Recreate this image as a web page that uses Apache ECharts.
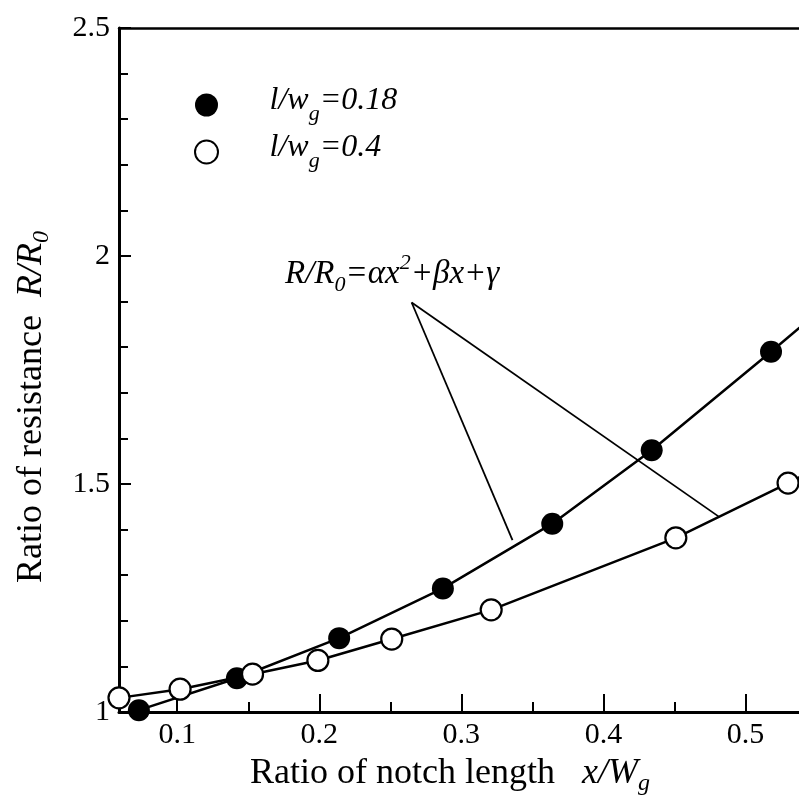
<!DOCTYPE html>
<html>
<head>
<meta charset="utf-8">
<script src="https://cdn.jsdelivr.net/npm/echarts@6/dist/echarts.min.js"></script>
<style>
  html, body { margin: 0; padding: 0; background: #fff; }
  #chart { width: 799px; height: 808px; }
</style>
</head>
<body>
<div id="chart"></div>
<script>
// measured points
const filledX = [0.073, 0.142, 0.214, 0.287, 0.364, 0.434, 0.518];
const filledY = [1.004, 1.074, 1.162, 1.271, 1.413, 1.574, 1.790];
const openX = [0.059, 0.102, 0.153, 0.199, 0.251, 0.321, 0.451, 0.530];
const openY = [1.031, 1.050, 1.083, 1.113, 1.160, 1.224, 1.382, 1.502];

// fitted curves
const fitFilledX = [0.059, 0.073, 0.142, 0.214, 0.287, 0.364, 0.434, 0.518, 0.56];
const fitFilledY = [0.995, 1.004, 1.074, 1.162, 1.271, 1.413, 1.574, 1.790, 1.90];
const fitOpenX = [0.059, 0.102, 0.153, 0.199, 0.251, 0.321, 0.451, 0.530, 0.56];
const fitOpenY = [1.031, 1.050, 1.083, 1.113, 1.160, 1.224, 1.382, 1.502, 1.55];

// ticks
const xLabelTicks = [0.1, 0.2, 0.3, 0.4, 0.5];
const xMinorTicks = [0.15, 0.25, 0.35, 0.45];
const legendRatios = ['0.18', '0.4'];

// leader lines of the formula label
const leaderApex = [0.265, 1.898];
const leaderEnds = [[0.336, 1.377], [0.481, 1.429]];

const FONT = 'Liberation Serif';
const xMin = 0.059, xMax = 0.5377;

function pairs(xs, ys) {
  return xs.map(function (x, i) { return [x, ys[i]]; });
}

var myChart = echarts.init(document.getElementById('chart'));

var rich32 = {
  i: { fontFamily: FONT, fontStyle: 'italic', fontSize: 32, lineHeight: 40, verticalAlign: 'top', color: '#000' },
  s: { fontFamily: FONT, fontStyle: 'italic', fontSize: 22, lineHeight: 22, verticalAlign: 'bottom', color: '#000' }
};
var rich36 = {
  n: { fontFamily: FONT, fontSize: 36, lineHeight: 40, verticalAlign: 'top', color: '#000' },
  i: { fontFamily: FONT, fontStyle: 'italic', fontSize: 36, lineHeight: 40, verticalAlign: 'top', color: '#000' },
  s: { fontFamily: FONT, fontStyle: 'italic', fontSize: 24, lineHeight: 24, verticalAlign: 'bottom', color: '#000' }
};

var option = {
  animation: false,
  backgroundColor: '#fff',
  textStyle: { fontFamily: FONT, color: '#000' },
  grid: [
    { left: 119, top: 28, width: 680, height: 684 },
    { left: 119, top: 28, width: 680, height: 684 }
  ],
  legend: {
    orient: 'vertical',
    left: 189,
    top: 80,
    itemWidth: 116,
    itemHeight: 23,
    itemGap: 7,
    selectedMode: false,
    data: ['l/wg=0.18', 'l/wg=0.4'],
    formatter: function (name) {
      var r = name === 'l/wg=0.18' ? legendRatios[0] : legendRatios[1];
      return '{i|l/w}{s|g}{i|=' + r + '}';
    },
    textStyle: { rich: rich32 }
  },
  xAxis: [
    {
      type: 'value', gridIndex: 0, position: 'bottom',
      min: xMin, max: xMax,
      axisLine: { lineStyle: { color: '#000', width: 3 } },
      axisTick: { inside: true, length: 18, customValues: xLabelTicks, lineStyle: { color: '#000', width: 2 } },
      axisLabel: { customValues: xLabelTicks, fontSize: 30, color: '#000', margin: 8, fontFamily: FONT },
      splitLine: { show: false }
    },
    {
      type: 'value', gridIndex: 0, position: 'top',
      min: xMin, max: xMax,
      axisLine: { lineStyle: { color: '#000', width: 2.5 } },
      axisTick: { show: false },
      axisLabel: { show: false },
      splitLine: { show: false }
    },
    {
      type: 'value', gridIndex: 1, position: 'bottom',
      min: xMin, max: xMax,
      axisLine: { show: false },
      axisTick: { inside: true, length: 10, customValues: xMinorTicks, lineStyle: { color: '#000', width: 2 } },
      axisLabel: { show: false },
      splitLine: { show: false }
    }
  ],
  yAxis: [
    {
      type: 'value', gridIndex: 0,
      min: 1, max: 2.5, interval: 0.5,
      axisLine: { show: true, lineStyle: { color: '#000', width: 3 } },
      axisTick: { inside: true, length: 12, lineStyle: { color: '#000', width: 2 } },
      minorTick: { show: true, splitNumber: 5, length: 9, lineStyle: { color: '#000', width: 2 } },
      axisLabel: { fontSize: 30, color: '#000', margin: 9, fontFamily: FONT },
      splitLine: { show: false }
    },
    {
      type: 'value', gridIndex: 1, min: 1, max: 2.5, show: false
    }
  ],
  series: [
    {
      name: 'fit 0.18',
      type: 'line',
      xAxisIndex: 0, yAxisIndex: 0,
      data: pairs(fitFilledX, fitFilledY),
      showSymbol: false,
      lineStyle: { color: '#000', width: 2.5 },
      silent: true,
      z: 2,
      markLine: {
        silent: true,
        symbol: ['none', 'none'],
        label: { show: false },
        lineStyle: { color: '#000', width: 1.8, type: 'solid' },
        data: leaderEnds.map(function (p) {
          return [{ coord: leaderApex }, { coord: p }];
        })
      }
    },
    {
      name: 'fit 0.4',
      type: 'line',
      xAxisIndex: 0, yAxisIndex: 0,
      data: pairs(fitOpenX, fitOpenY),
      showSymbol: false,
      lineStyle: { color: '#000', width: 2.5 },
      silent: true,
      z: 2
    },
    {
      name: 'l/wg=0.18',
      type: 'scatter',
      xAxisIndex: 0, yAxisIndex: 0,
      data: pairs(filledX, filledY),
      symbol: 'circle',
      symbolSize: 22,
      clip: false,
      itemStyle: { color: '#000', opacity: 1 },
      z: 5
    },
    {
      name: 'l/wg=0.4',
      type: 'scatter',
      xAxisIndex: 0, yAxisIndex: 0,
      data: pairs(openX, openY),
      symbol: 'circle',
      symbolSize: 21,
      clip: false,
      itemStyle: { color: '#fff', borderColor: '#000', borderWidth: 2.2, opacity: 1 },
      z: 5
    }
  ],
  graphic: [
    {
      type: 'text',
      x: 450, y: 776,
      style: {
        text: '{n|Ratio of notch length   }{i|x/W}{s|g}',
        rich: rich36,
        align: 'center',
        verticalAlign: 'middle'
      }
    },
    {
      type: 'text',
      x: 34, y: 407,
      rotation: Math.PI / 2,
      style: {
        text: '{n|Ratio of resistance  }{i|R/R}{s|0}',
        rich: rich36,
        align: 'center',
        verticalAlign: 'middle'
      }
    },
    {
      type: 'text',
      x: 285, y: 274,
      style: {
        text: '{m|R/R}{s|0}{m|=αx}{p|2}{m|+βx+γ}',
        rich: {
          m: { fontFamily: FONT, fontStyle: 'italic', fontSize: 33, lineHeight: 44, verticalAlign: 'middle', color: '#000' },
          s: { fontFamily: FONT, fontStyle: 'italic', fontSize: 22, lineHeight: 22, verticalAlign: 'bottom', color: '#000' },
          p: { fontFamily: FONT, fontStyle: 'italic', fontSize: 22, lineHeight: 22, verticalAlign: 'top', color: '#000' }
        },
        align: 'left',
        verticalAlign: 'middle'
      }
    }
  ]
};

myChart.setOption(option);
</script>
</body>
</html>
